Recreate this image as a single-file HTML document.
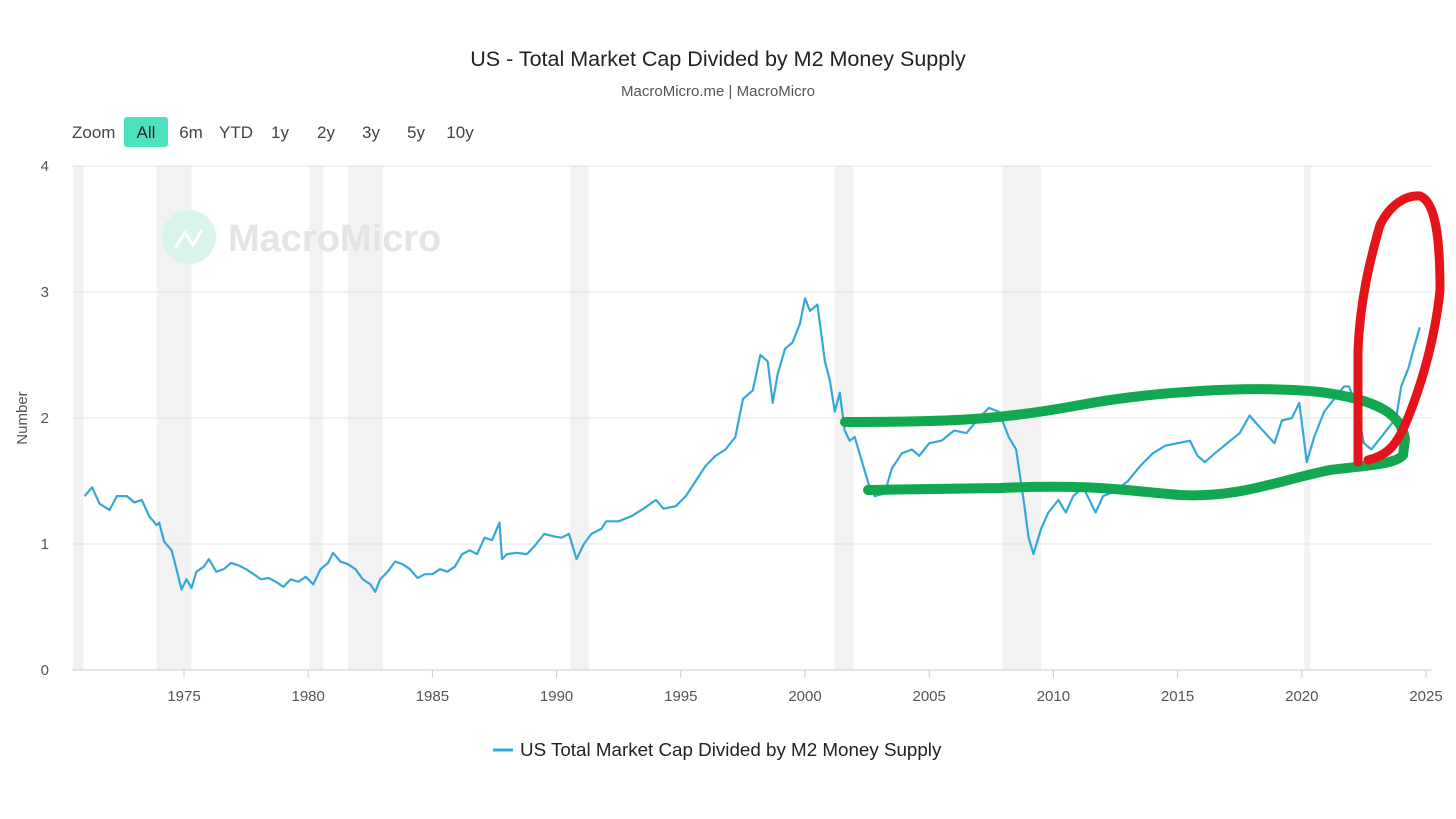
<!DOCTYPE html>
<html><head><meta charset="utf-8"><style>
body{margin:0;background:#fff;font-family:"Liberation Sans",sans-serif;}
svg{display:block}
</style></head><body>
<svg id="chart" width="1456" height="819">
<text x="718" y="66" text-anchor="middle" font-size="21.5" fill="#222">US - Total Market Cap Divided by M2 Money Supply</text>
<text x="718" y="96" text-anchor="middle" font-size="15" fill="#555">MacroMicro.me | MacroMicro</text>
<g font-size="17" fill="#444">
<text x="72" y="138">Zoom</text>
<rect x="124" y="117" width="44" height="30" rx="3" fill="#4de2bf"/>
<text x="146" y="138" text-anchor="middle" fill="#222">All</text>
<text x="191" y="138" text-anchor="middle">6m</text>
<text x="236" y="138" text-anchor="middle">YTD</text>
<text x="280" y="138" text-anchor="middle">1y</text>
<text x="326" y="138" text-anchor="middle">2y</text>
<text x="371" y="138" text-anchor="middle">3y</text>
<text x="416" y="138" text-anchor="middle">5y</text>
<text x="460" y="138" text-anchor="middle">10y</text>
</g>
<g id="bands"></g>
<g id="grid"></g>
<g>
<circle cx="189" cy="237" r="27" fill="#d8f5ec"/>
<polyline points="175,248 185,233 193,245 202,230" fill="none" stroke="#fff" stroke-width="3"/>
<text x="228" y="251" font-size="38" font-weight="bold" fill="#e4e4e4">MacroMicro</text>
</g>
<g id="axes"></g>
<path id="series" fill="none" stroke="#35a8d8" stroke-width="2.2" stroke-linejoin="round"/>
<path d="M845,422 C950,422 1000,420 1080,405 C1150,392 1250,385 1320,392 C1380,400 1402,415 1405,440 L1403,455 C1395,465 1360,466 1330,470 C1280,480 1240,498 1180,495 C1120,490 1090,484 1000,488 L868,490" fill="none" stroke="#12a84f" stroke-width="10" stroke-linecap="round"/>
<path d="M1358,462 L1358,350 C1360,300 1370,260 1380,225 C1390,205 1405,195 1420,196 C1436,202 1440,240 1440,290 C1435,340 1420,390 1405,425 C1395,448 1385,456 1368,460" fill="none" stroke="#e5141a" stroke-width="9" stroke-linecap="round"/>
<text x="27" y="418" transform="rotate(-90 27 418)" text-anchor="middle" font-size="15" fill="#555">Number</text>
<g>
<line x1="493" y1="750" x2="513" y2="750" stroke="#35a8d8" stroke-width="3"/>
<text x="520" y="756" font-size="18.8" fill="#222">US Total Market Cap Divided by M2 Money Supply</text>
</g>
</svg>
<script>
const years=[1971.0,1971.3,1971.6,1972.0,1972.3,1972.7,1973.0,1973.3,1973.6,1973.9,1974.0,1974.2,1974.5,1974.7,1974.9,1975.1,1975.3,1975.5,1975.8,1976.0,1976.3,1976.6,1976.9,1977.2,1977.5,1977.8,1978.1,1978.4,1978.7,1979.0,1979.3,1979.6,1979.9,1980.2,1980.5,1980.8,1981.0,1981.3,1981.6,1981.9,1982.2,1982.5,1982.7,1982.9,1983.2,1983.5,1983.8,1984.1,1984.4,1984.7,1985.0,1985.3,1985.6,1985.9,1986.2,1986.5,1986.8,1987.1,1987.4,1987.7,1987.8,1988.0,1988.4,1988.8,1989.1,1989.5,1989.9,1990.2,1990.5,1990.8,1991.1,1991.4,1991.8,1992.0,1992.5,1993.0,1993.5,1994.0,1994.3,1994.8,1995.2,1995.6,1996.0,1996.4,1996.8,1997.2,1997.5,1997.9,1998.2,1998.5,1998.7,1998.9,1999.2,1999.5,1999.8,2000.0,2000.2,2000.5,2000.8,2001.0,2001.2,2001.4,2001.6,2001.8,2002.0,2002.3,2002.6,2002.8,2003.2,2003.5,2003.9,2004.3,2004.6,2005.0,2005.5,2006.0,2006.5,2007.0,2007.4,2007.8,2008.2,2008.5,2008.8,2009.0,2009.2,2009.5,2009.8,2010.2,2010.5,2010.8,2011.2,2011.7,2012.0,2012.5,2013.0,2013.5,2014.0,2014.5,2015.0,2015.5,2015.8,2016.1,2016.5,2017.0,2017.5,2017.9,2018.2,2018.9,2019.2,2019.6,2019.9,2020.2,2020.5,2020.9,2021.3,2021.7,2021.9,2022.2,2022.5,2022.8,2023.0,2023.4,2023.8,2024.0,2024.3,2024.5,2024.75];
const values=[1.38,1.45,1.32,1.27,1.38,1.38,1.33,1.35,1.22,1.15,1.17,1.02,0.95,0.8,0.64,0.72,0.65,0.78,0.82,0.88,0.78,0.80,0.85,0.83,0.80,0.76,0.72,0.73,0.70,0.66,0.72,0.70,0.74,0.68,0.80,0.85,0.93,0.86,0.84,0.80,0.72,0.68,0.62,0.72,0.78,0.86,0.84,0.80,0.73,0.76,0.76,0.80,0.78,0.82,0.92,0.95,0.92,1.05,1.03,1.17,0.88,0.92,0.93,0.92,0.98,1.08,1.06,1.05,1.08,0.88,1.00,1.08,1.12,1.18,1.18,1.22,1.28,1.35,1.28,1.30,1.38,1.50,1.62,1.70,1.75,1.85,2.15,2.22,2.50,2.45,2.12,2.35,2.55,2.60,2.75,2.95,2.85,2.90,2.45,2.30,2.05,2.20,1.90,1.82,1.85,1.65,1.45,1.38,1.40,1.60,1.72,1.75,1.70,1.80,1.82,1.90,1.88,2.00,2.08,2.05,1.85,1.75,1.35,1.05,0.92,1.12,1.25,1.35,1.25,1.38,1.45,1.25,1.38,1.42,1.50,1.62,1.72,1.78,1.80,1.82,1.70,1.65,1.72,1.80,1.88,2.02,1.95,1.80,1.98,2.00,2.12,1.65,1.85,2.05,2.15,2.25,2.25,2.10,1.80,1.75,1.80,1.90,2.00,2.25,2.40,2.55,2.72];
const recStart=[1970.55,1973.9,1980.05,1981.6,1990.55,2001.2,2007.95,2020.1];
const recEnd=[1970.95,1975.3,1980.6,1983.0,1991.3,2001.95,2009.5,2020.35];
const yTicks=[0,1,2,3,4];
const xTicks=[1975,1980,1985,1990,1995,2000,2005,2010,2015,2020,2025];
const NS='http://www.w3.org/2000/svg';
const X0=72,X1=1432,Y0=670,Y1=166;
const xs=y=>184+(y-1975)*24.84;
const ys=v=>670-v*126;
function mk(t,a,p){const e=document.createElementNS(NS,t);for(const k in a)e.setAttribute(k,a[k]);p.appendChild(e);return e;}
const bands=document.getElementById('bands');
recStart.forEach((s,i)=>{const r=mk('rect',{x:xs(s),y:Y1,width:xs(recEnd[i])-xs(s),height:Y0-Y1,fill:'#f2f2f2'},bands);

});
const grid=document.getElementById('grid');
yTicks.forEach(v=>{const l=mk('line',{x1:X0,x2:X1,y1:ys(v),y2:ys(v),stroke:v===0?'#ccc':'#e3e3e3','stroke-width':1},grid);


const t=mk('text',{x:49,y:ys(v)+5,'text-anchor':'end','font-size':15,fill:'#555'},grid);t.textContent=v;

});
const axes=document.getElementById('axes');
xTicks.forEach(y=>{const l=mk('line',{x1:xs(y),x2:xs(y),y1:Y0,y2:Y0+8,stroke:'#ccc'},axes);


const t=mk('text',{x:xs(y),y:Y0+31,'text-anchor':'middle','font-size':15,fill:'#555'},axes);t.textContent=y;

});
document.getElementById('series').setAttribute('d',years.map((y,i)=>(i?'L':'M')+xs(y).toFixed(1)+','+ys(values[i]).toFixed(1)).join(''));
</script>
</body></html>
